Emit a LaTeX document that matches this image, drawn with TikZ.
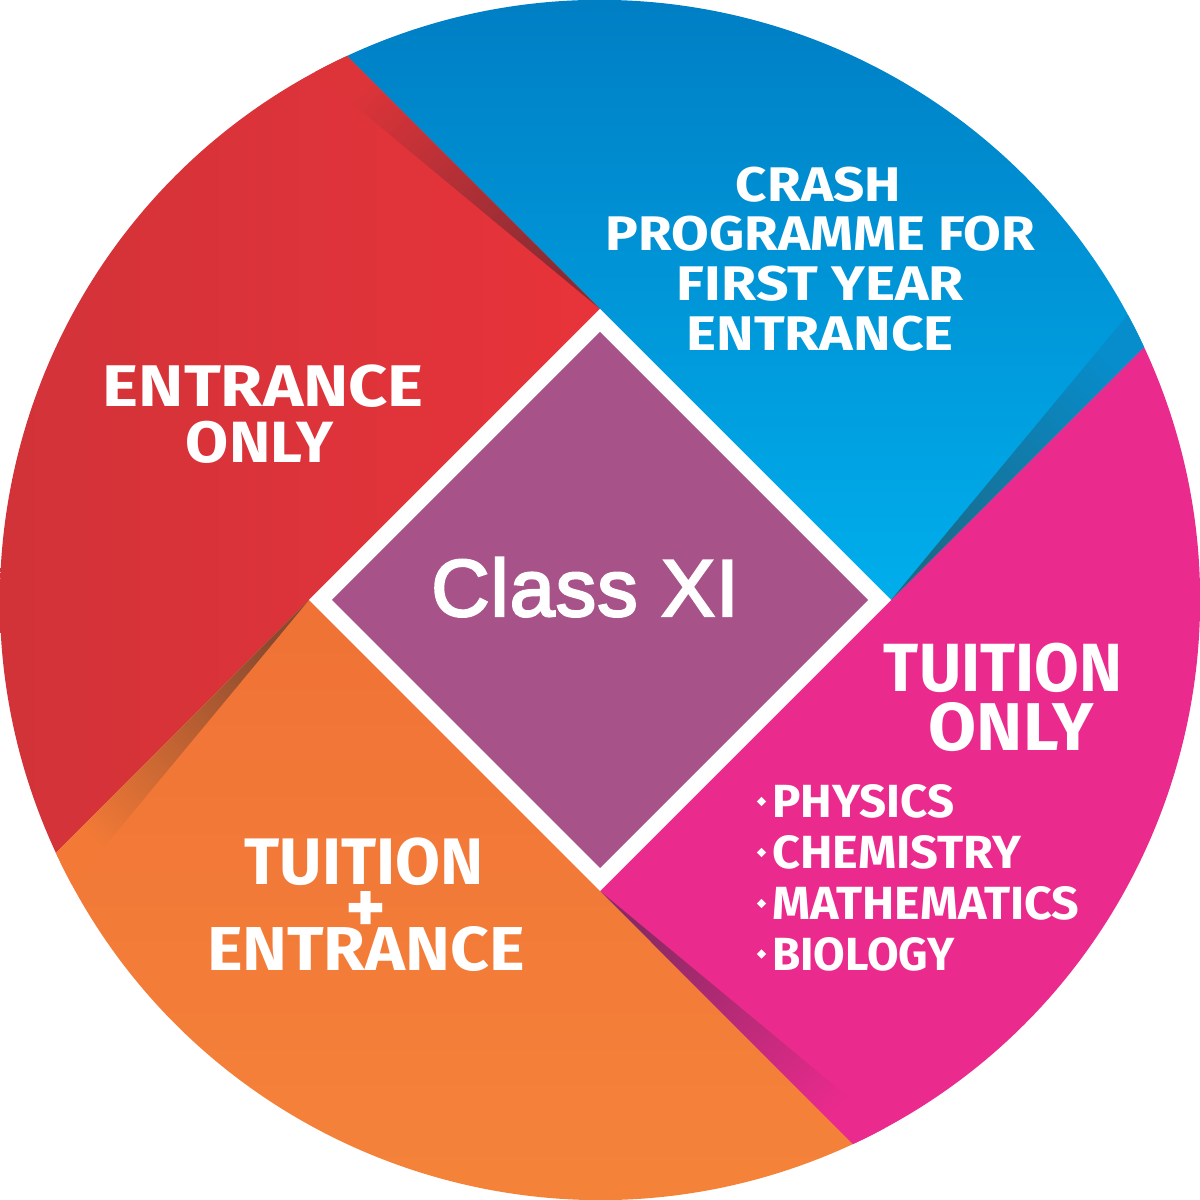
\documentclass[tikz,border=0pt]{standalone}
\usepackage{fontspec}
\usepackage{graphicx}
\newfontfamily\labelfont{Fira Sans}
\newfontfamily\classfont{Liberation Sans}[FakeBold=3,LetterSpace=1.5]
\newcommand\fitxt[3]{\resizebox{#1pt}{#2pt}{\labelfont\bfseries #3}}
\definecolor{redL}{HTML}{CE3339}
\definecolor{redR}{HTML}{E8333A}
\definecolor{redS}{HTML}{882C33}
\definecolor{redF}{HTML}{DC3439}
\definecolor{blueT}{HTML}{0078BF}
\definecolor{blueB}{HTML}{00AEEC}
\definecolor{blueS}{HTML}{1A6A8A}
\definecolor{blueF}{HTML}{078DCB}
\definecolor{pinkC}{HTML}{EB2A8E}
\definecolor{pinkS}{HTML}{8A2A62}
\definecolor{orT}{HTML}{F07236}
\definecolor{orB}{HTML}{F5853A}
\definecolor{orS}{HTML}{8A4A2F}
\definecolor{orF}{HTML}{F37A36}
\definecolor{purpleC}{HTML}{A8528A}
\begin{document}
\begin{tikzpicture}[x=1pt,y=1pt,
  lbl/.style={text=white, inner sep=0pt, anchor=base},
  lstitem/.style={text=white, inner sep=0pt, anchor=base west}]
\useasboundingbox (0,0) rectangle (1200,1200);
\begin{scope}[shift={(600,600)}]
  % segments
  \shade[left color=redL, right color=redR]
    (0,0) -- (0,291) -- (114.94:600pt) arc[start angle=114.94, end angle=204.94, radius=600pt] -- (-291,0) -- cycle;
  \shade[top color=blueT, bottom color=blueB]
    (0,0) -- (0,291) -- (114.94:600pt) arc[start angle=114.94, end angle=24.94, radius=600pt] -- (291,0) -- cycle;
  \fill[pinkC]
    (0,0) -- (291,0) -- (24.94:600pt) arc[start angle=24.94, end angle=-65.06, radius=600pt] -- (0,-291) -- cycle;
  \shade[top color=orT, bottom color=orB]
    (0,0) -- (0,-291) -- (-65.06:600pt) arc[start angle=-65.06, end angle=-155.06, radius=600pt] -- (-291,0) -- cycle;
  % fold shadows
  \shade[top color=redF, bottom color=redS, shading angle=45]
    (0,291) -- (114.94:600pt) arc[start angle=114.94, end angle=118.4, radius=600pt] -- cycle;
  \shade[top color=blueF, bottom color=blueS, shading angle=-45]
    (291,0) -- (24.94:600pt) arc[start angle=24.94, end angle=28.4, radius=600pt] -- cycle;
  \shade[top color=pinkC, bottom color=pinkS, shading angle=-135]
    (0,-291) -- (-65.06:600pt) arc[start angle=-65.06, end angle=-61.6, radius=600pt] -- cycle;
  \shade[top color=orF, bottom color=orS, shading angle=135]
    (-291,0) -- (204.94:600pt) arc[start angle=204.94, end angle=208.4, radius=600pt] -- cycle;
  % central diamond
  \fill[white] (0,291) -- (291,0) -- (0,-291) -- (-291,0) -- cycle;
  \fill[purpleC] (0,268) -- (268,0) -- (0,-268) -- (-268,0) -- cycle;
\end{scope}
% centre label
\node[lbl, font=\classfont\fontsize{80.6}{96}\selectfont] (cls) at (585,584) {Class XI};
% red
\node[lbl] (r1) at (263.4,793.3) {\fitxt{321}{41.7}{ENTRANCE}};
\node[lbl] (r2) at (259.9,737) {\fitxt{148}{41.3}{ONLY}};
% blue
\node[lbl] (b1) at (818.4,998.3) {\fitxt{165}{34.5}{CRASH}};
\node[lbl] (b2) at (820.5,949.3) {\fitxt{429}{34.5}{PROGRAMME FOR}};
\node[lbl] (b3) at (820.5,899.3) {\fitxt{287}{34.5}{FIRST YEAR}};
\node[lbl] (b4) at (820.2,849.3) {\fitxt{267}{34.5}{ENTRANCE}};
% pink
\node[lbl] (p1) at (1003,508.3) {\fitxt{238}{48.4}{TUITION}};
\node[lbl] (p2) at (1011.4,449.3) {\fitxt{165}{48}{ONLY}};
\node[lstitem] (s1) at (772,382) {\fitxt{182}{33}{PHYSICS}};
\node[lstitem] (s2) at (772,331) {\fitxt{249}{33}{CHEMISTRY}};
\node[lstitem] (s3) at (772,280) {\fitxt{307}{33}{MATHEMATICS}};
\node[lstitem] (s4) at (772,229.5) {\fitxt{182}{33}{BIOLOGY}};
\foreach \yy in {398.5,347.5,296.5,246} {
  \fill[white] (761.5,\yy+4.7) -- (766.2,\yy) -- (761.5,\yy-4.7) -- (756.8,\yy) -- cycle;
}
% orange
\node[lbl] (o1) at (364.2,315) {\fitxt{239}{46.7}{TUITION}};
\node[lbl] (o2) at (366.2,266) {\fitxt{41}{42}{+}};
\node[lbl] (o3) at (366,229.3) {\fitxt{318}{44}{ENTRANCE}};
\end{tikzpicture}
\end{document}
